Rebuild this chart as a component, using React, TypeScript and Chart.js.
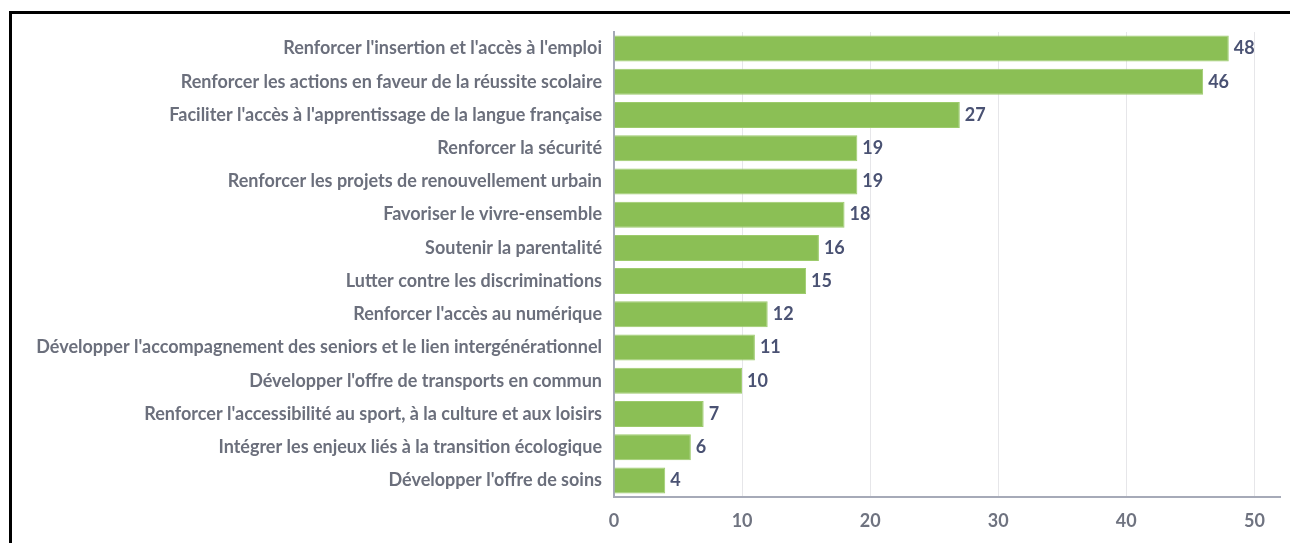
import React, { useEffect, useRef } from "react";
import { Chart, registerables } from "chart.js";

Chart.register(...registerables);

const categories: string[] = [
  "Renforcer l'insertion et l'accès à l'emploi",
  "Renforcer les actions en faveur de la réussite scolaire",
  "Faciliter l'accès à l'apprentissage de la langue française",
  "Renforcer la sécurité",
  "Renforcer les projets de renouvellement urbain",
  "Favoriser le vivre-ensemble",
  "Soutenir la parentalité",
  "Lutter contre les discriminations",
  "Renforcer l'accès au numérique",
  "Développer l'accompagnement des seniors et le lien intergénérationnel",
  "Développer l'offre de transports en commun",
  "Renforcer l'accessibilité au sport, à la culture et aux loisirs",
  "Intégrer les enjeux liés à la transition écologique",
  "Développer l'offre de soins",
];

const values: number[] = [48, 46, 27, 19, 19, 18, 16, 15, 12, 11, 10, 7, 6, 4];

const xTicks: number[] = [0, 10, 20, 30, 40, 50];

const FONT = "Lato, 'Open Sans', sans-serif";

const valueLabels = {
  id: "valueLabels",
  afterDatasetsDraw(chart: any) {
    const ctx = chart.ctx;
    const meta = chart.getDatasetMeta(0);
    ctx.save();
    ctx.font = `bold 18px ${FONT}`;
    ctx.fillStyle = "#4a5273";
    ctx.textAlign = "left";
    ctx.textBaseline = "middle";
    meta.data.forEach((bar: any, i: number) => {
      ctx.fillText(String(values[i]), bar.x + 5, bar.y);
    });
    ctx.restore();
  },
};

export default function App() {
  const ref = useRef<HTMLCanvasElement | null>(null);

  useEffect(() => {
    if (!ref.current) return;
    const chart = new Chart(ref.current, {
      type: "bar",
      data: {
        labels: categories,
        datasets: [
          {
            data: values,
            backgroundColor: "#8bbf55",
            borderColor: "#9dcb6c",
            borderWidth: 1,
            barPercentage: 0.87,
            categoryPercentage: 0.9,
          },
        ],
      },
      options: {
        indexAxis: "y",
        responsive: false,
        animation: false,
        layout: { padding: { top: 18, right: 10, bottom: 0, left: 0 } },
        plugins: {
          legend: { display: false },
          tooltip: { enabled: false },
        },
        scales: {
          x: {
            min: 0,
            max: 52,
            ticks: {
              stepSize: 10,
              padding: 13,
              color: "#6f7380",
              font: { family: FONT, size: 18, weight: "bold" },
            },
            afterBuildTicks: (scale: any) => {
              scale.ticks = xTicks.map((v) => ({ value: v }));
            },
            afterFit: (scale: any) => {
              scale.height = 46;
              scale.paddingLeft = 0;
              scale.paddingRight = 0;
            },
            grid: { color: "#e6e6e9", drawTicks: false, lineWidth: 1 },
            border: { color: "#a6aab8", width: 2 },
          },
          y: {
            ticks: {
              padding: 12,
              color: "#6b6f7c",
              font: { family: FONT, size: 18, weight: "bold" },
              autoSkip: false,
            },
            afterFit: (scale: any) => {
              scale.width = 602;
              scale.paddingTop = 0;
              scale.paddingBottom = 0;
            },
            grid: { display: false, drawTicks: false },
            border: { color: "#a6aab8", width: 2 },
          },
        },
      },
      plugins: [valueLabels],
    });
    return () => chart.destroy();
  }, []);

  return (
    <div
      style={{
        position: "fixed",
        left: 9,
        top: 11,
        width: 1300,
        height: 560,
        border: "3px solid #000",
        overflow: "hidden",
        background: "#fff",
      }}
    >
      <canvas ref={ref} width={1278} height={529} style={{ display: "block" }} />
    </div>
  );
}
